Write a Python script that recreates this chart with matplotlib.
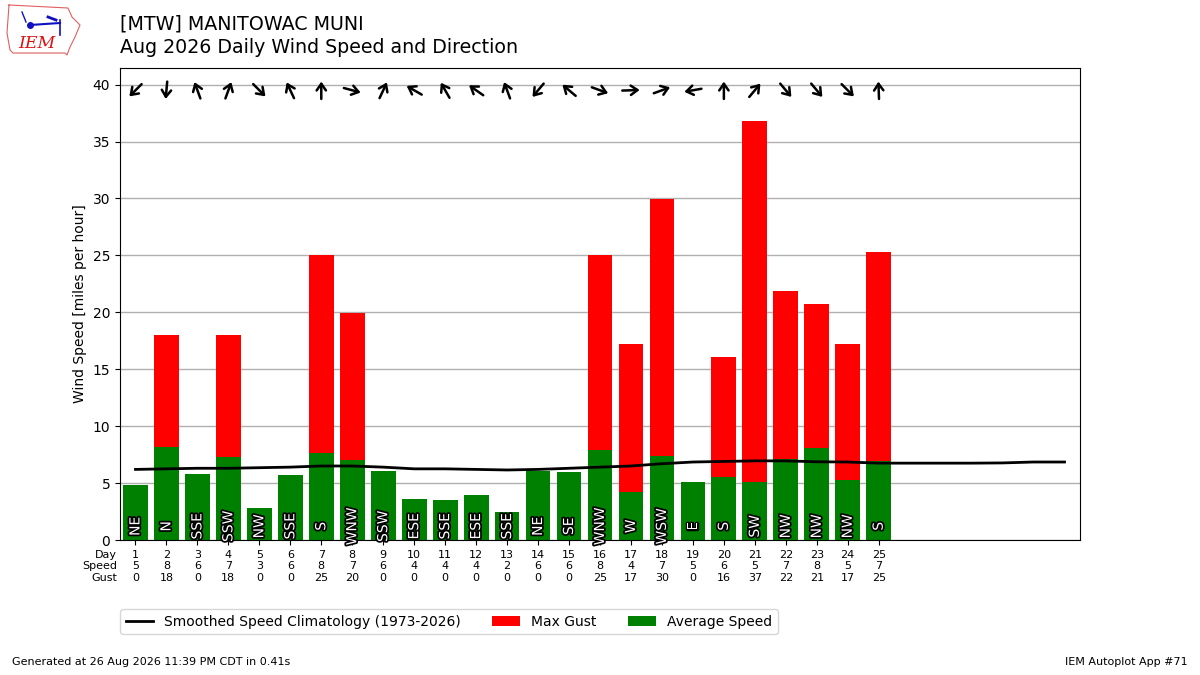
import numpy as np
import matplotlib
matplotlib.use("Agg")
import matplotlib.pyplot as plt
import matplotlib.patheffects as PathEffects
from matplotlib import transforms

# daily observations, Aug 2026
days = list(range(1, 26))
avg_speed = [4.82, 8.15, 5.8, 7.3, 2.8, 5.7, 7.6, 7.06, 6.07, 3.6, 3.5, 3.96, 2.49,
             6.1, 5.98, 7.9, 4.25, 7.4, 5.07, 5.5, 5.07, 7.09, 8.1, 5.3, 6.92]
max_gust = [0, 18.0, 0, 18.0, 0, 0, 25.0, 19.95, 0, 0, 0, 0, 0,
            0, 0, 25.0, 17.2, 29.95, 0, 16.1, 36.8, 21.9, 20.7, 17.2, 25.3]
avg_drct = [45, 5, 160, 200, 315, 155, 180, 285, 205, 120, 150, 125, 160,
            40, 130, 290, 268, 250, 80, 180, 220, 320, 320, 315, 178]
drct_text = ["NE", "N", "SSE", "SSW", "NW", "SSE", "S", "WNW", "SSW", "ESE", "SSE",
             "ESE", "SSE", "NE", "SE", "WNW", "W", "WSW", "E", "S", "SW", "NW",
             "NW", "NW", "S"]

# smoothed climatology for every day of the month
clim_days = list(range(1, 32))
clim_speed = [6.2, 6.25, 6.3, 6.3, 6.35, 6.4, 6.5, 6.5, 6.4, 6.25, 6.25, 6.2, 6.15,
              6.2, 6.3, 6.4, 6.5, 6.7, 6.85, 6.9, 6.95, 6.95, 6.87, 6.85, 6.75,
              6.75, 6.75, 6.75, 6.77, 6.85, 6.85]

# rough logo outline (pixels inside the logo box)
logo_x = [9, 68, 72, 80, 75, 70, 67, 65, 13, 10, 7, 9]
logo_y = [5, 8, 17, 25, 37, 47, 55, 53, 53, 50, 33, 5]


def main():
    fig = plt.figure(figsize=(12, 6.75), dpi=100)
    ax = fig.add_axes([0.1, 0.2, 0.8, 0.7])

    ax.bar(days, max_gust, width=0.8, color="r", label="Max Gust", zorder=2)
    ax.bar(days, avg_speed, width=0.8, color="g", label="Average Speed", zorder=2)
    ax.plot(clim_days, clim_speed, color="k", lw=2, zorder=3,
            label="Smoothed Speed Climatology (1973-2026)")

    for d, txt in zip(days, drct_text):
        ax.text(d, 1.2, txt, color="white", rotation=90, ha="center", va="center",
                fontsize=10, zorder=4,
                path_effects=[PathEffects.withStroke(linewidth=2.5, foreground="k")])

    # arrows showing where the wind blows to
    alen = 12.5
    for d, drct in zip(days, avg_drct):
        ang = np.radians(drct + 180)
        dx = alen * np.sin(ang)
        dy = alen * np.cos(ang)
        head = transforms.offset_copy(ax.transData, fig=fig, x=dx / 2, y=dy / 2,
                                      units="points")
        ax.annotate("", xy=(d, 39.5), xycoords=head, xytext=(-dx, -dy),
                    textcoords="offset points",
                    arrowprops=dict(arrowstyle="->,head_length=0.4,head_width=0.28",
                                    lw=1.8, color="k", shrinkA=0, shrinkB=0,
                                    mutation_scale=12))

    ax.set_xlim(0.5, 31.5)
    ax.set_ylim(0, 41.5)
    ax.set_yticks(range(0, 41, 5))
    ax.set_xticks(days)
    ax.set_xticklabels(["%d\n%.0f\n%.0f" % (d, s, g)
                        for d, s, g in zip(days, avg_speed, max_gust)], fontsize=8)
    ax.annotate("Day\nSpeed\nGust", xy=(0, 0), xycoords="axes fraction",
                xytext=(-2, -7), textcoords="offset points", ha="right", va="top",
                fontsize=8, multialignment="right")
    ax.set_ylabel("Wind Speed [miles per hour]")
    ax.grid(axis="y", color="#b0b0b0", lw=1)
    ax.set_axisbelow(True)

    ax.legend(ncol=3, loc="upper left", bbox_to_anchor=(0, -0.146), fontsize=10,
              borderaxespad=0, columnspacing=2.25)

    fig.text(0.1, 0.978, "[MTW] MANITOWAC MUNI\nAug 2026 Daily Wind Speed and Direction",
             fontsize=13.7, va="top", ha="left", linespacing=1.25)

    # logo
    lax = fig.add_axes([0, 1 - 60 / 675., 84 / 1200., 60 / 675.])
    lax.set_xlim(0, 84)
    lax.set_ylim(60, 0)
    lax.axis("off")
    lax.plot(logo_x, logo_y, color="#e06060", lw=0.8)
    lax.plot([30, 60], [25, 23], color="#1010c0", lw=1.5)
    lax.plot([60, 60], [20, 35], color="#1010c0", lw=1.2)
    lax.plot([22, 26], [12, 22], color="#1010c0", lw=1)
    lax.plot([48, 56], [17, 20], color="#1010c0", lw=2)
    lax.plot([30], [25], "o", color="#1010c0", ms=4)
    lax.text(37, 44, "IEM", color="#dd1111", fontsize=12.5, family="serif",
             style="italic", ha="center", va="center")

    fig.text(0.01, 0.015, "Generated at 26 Aug 2026 11:39 PM CDT in 0.41s", fontsize=8)
    fig.text(0.99, 0.015, "IEM Autoplot App #71", fontsize=8, ha="right")

    fig.savefig("out.png")


if __name__ == '__main__':
    main()
